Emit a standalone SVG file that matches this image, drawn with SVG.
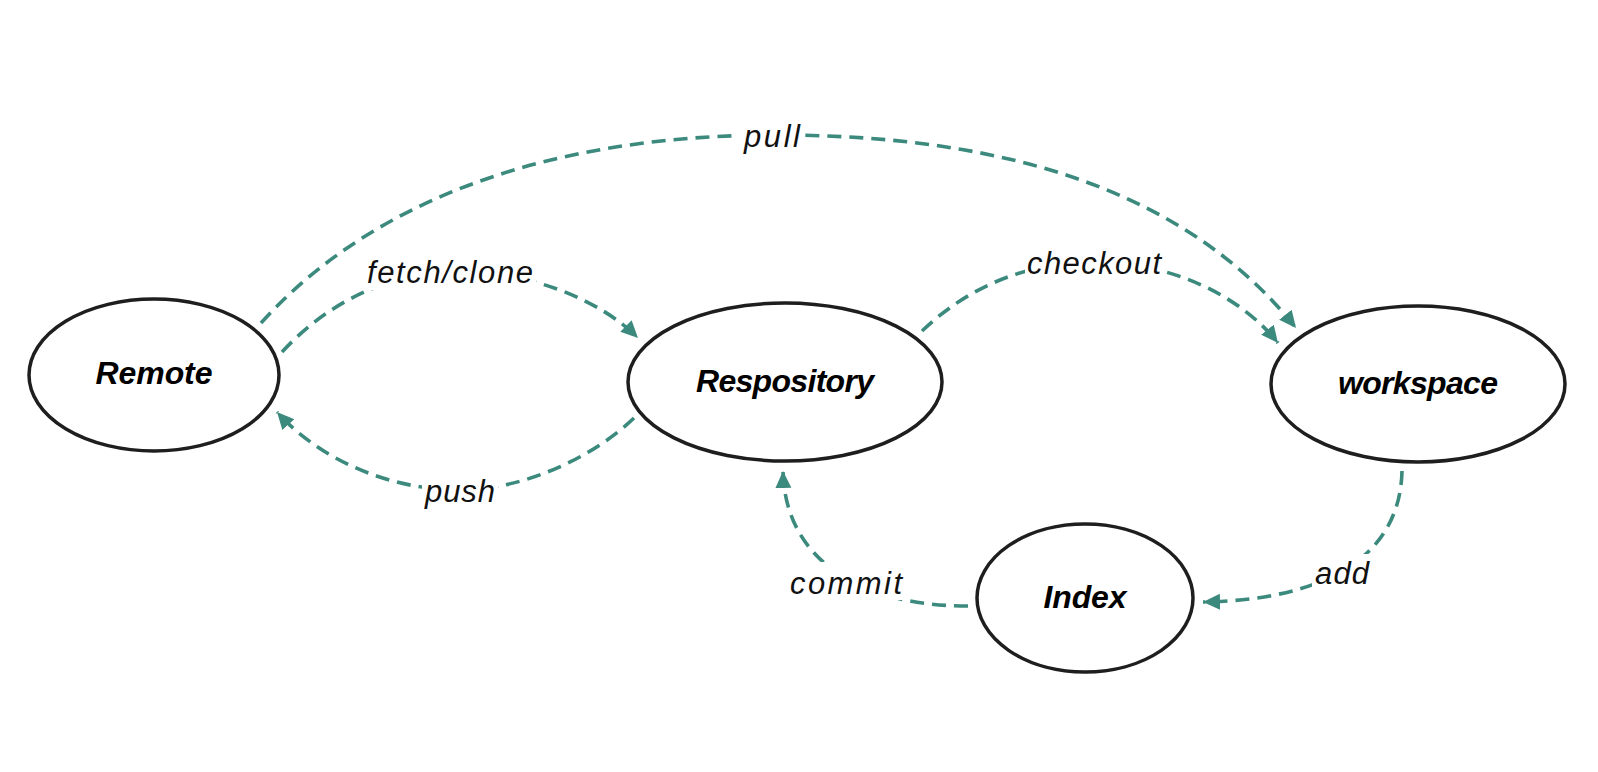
<svg xmlns="http://www.w3.org/2000/svg" width="1598" height="772" viewBox="0 0 1598 772">
<style>
.node ellipse{fill:#fff;stroke:#1e1e1e;stroke-width:3.5}
.node text{font-family:"Liberation Sans",Arial,sans-serif;font-weight:bold;font-style:italic;font-size:32px;fill:#000;text-anchor:middle;dominant-baseline:central}
.edge{fill:none;stroke:#3b8a7d;stroke-width:3.6;stroke-dasharray:14 8;marker-end:url(#arr)}
.lbl rect{fill:#fff}
.lbl text{font-family:"Liberation Sans",Arial,sans-serif;font-style:italic;font-size:31px;fill:#111;text-anchor:middle;dominant-baseline:central}
</style>
<defs>
<marker id="arr" markerUnits="userSpaceOnUse" markerWidth="20" markerHeight="18" refX="17" refY="8" orient="auto">
<path d="M0,0 L17,8 L0,16 z" fill="#3b8a7d"/>
</marker>
</defs>
<rect width="1598" height="772" fill="#fff"/>
<g id="connectors">
<path id="e-pull" class="edge" d="M261,323 C395,175 600,135 775,135 C960,135 1170,170 1296,328"/>
<path id="e-fetch" class="edge" d="M282,352 C330,300 390,274 450,272 C530,270 600,300 638,338"/>
<path id="e-checkout" class="edge" d="M922,331 C970,285 1030,262 1094,262 C1170,262 1240,295 1278,343"/>
<path id="e-push" class="edge" d="M634,418 C590,460 520,490 460,490 C390,490 320,460 277,412"/>
<path id="e-commit" class="edge" d="M968,606 C860,606 785,560 783,471"/>
<path id="e-add" class="edge" d="M1402,471 C1400,560 1320,600 1203,602"/>
<g class="lbl">
<rect x="738" y="118" width="64" height="36"/><text x="772" y="136" textLength="56">pull</text>
<rect x="364" y="254" width="172" height="36"/><text x="450" y="272" textLength="166">fetch/clone</text>
<rect x="1025" y="244" width="138" height="36"/><text x="1094" y="263" textLength="134">checkout</text>
<rect x="422" y="472" width="76" height="36"/><text x="460" y="491" textLength="70">push</text>
<rect x="788" y="562" width="116" height="38"/><text x="846" y="583" textLength="112">commit</text>
<rect x="1312" y="554" width="60" height="36"/><text x="1342" y="573" textLength="54">add</text>
</g>
</g>
<g id="node-remote" class="node"><ellipse cx="154" cy="375" rx="125" ry="76"/><text x="154" y="373" textLength="117">Remote</text></g>
<g id="node-repository" class="node"><ellipse cx="785" cy="382" rx="157" ry="79"/><text x="785" y="381" textLength="178">Respository</text></g>
<g id="node-workspace" class="node"><ellipse cx="1418" cy="384" rx="147" ry="78"/><text x="1418" y="383" textLength="160">workspace</text></g>
<g id="node-index" class="node"><ellipse cx="1085" cy="598" rx="108" ry="74"/><text x="1085" y="597" textLength="83">Index</text></g>
</svg>
